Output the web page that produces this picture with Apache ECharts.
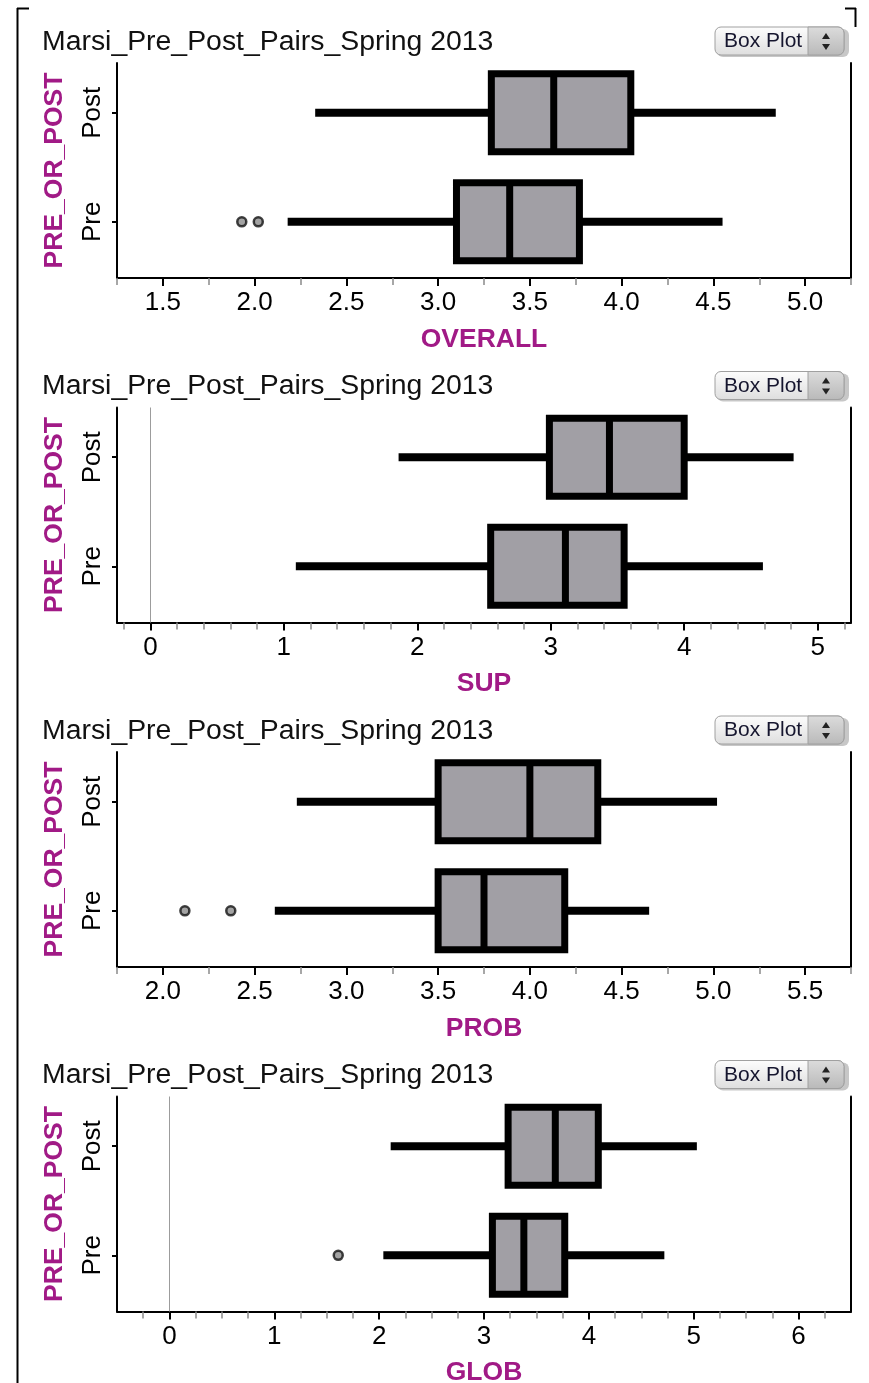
<!DOCTYPE html>
<html>
<head>
<meta charset="utf-8">
<title>Marsi_Pre_Post_Pairs_Spring 2013</title>
<script src="https://cdn.jsdelivr.net/npm/echarts@6/dist/echarts.min.js"></script>
<style>
  html, body { margin: 0; padding: 0; background: #fff; }
  #chart { width: 869px; height: 1383px; }
</style>
</head>
<body>
<div id="chart"></div>
<script>
// ---- data -------------------------------------------------------------
const categories = ['Pre', 'Post'];
const panelTitle = 'Marsi_Pre_Post_Pairs_Spring 2013';
const measureNames = ['OVERALL', 'SUP', 'PROB', 'GLOB'];

// five-number summaries: [low whisker, Q1, median, Q3, high whisker]
const overallPre  = [2.18, 3.10, 3.39, 3.77, 4.55];
const overallPost = [2.33, 3.29, 3.63, 4.05, 4.84];
const overallPreOutliers = [1.93, 2.02];
const overallPostOutliers = [];

const supPre  = [1.09, 2.55, 3.11, 3.55, 4.59];
const supPost = [1.86, 2.99, 3.44, 4.00, 4.82];
const supPreOutliers = [];
const supPostOutliers = [];

const probPre  = [2.61, 3.50, 3.75, 4.19, 4.65];
const probPost = [2.73, 3.50, 4.00, 4.37, 5.02];
const probPreOutliers = [2.12, 2.37];
const probPostOutliers = [];

const globPre  = [2.04, 3.08, 3.38, 3.77, 4.72];
const globPost = [2.11, 3.23, 3.68, 4.09, 5.03];
const globPreOutliers = [1.61];
const globPostOutliers = [];

// axis extents and tick labels
const overallRange = [1.25, 5.25];
const overallTicks = [1.5, 2.0, 2.5, 3.0, 3.5, 4.0, 4.5, 5.0];
const overallMinorTicks = [1.25, 1.75, 2.25, 2.75, 3.25, 3.75, 4.25, 4.75, 5.25];

const supRange = [-0.25, 5.25];
const supTicks = [0, 1, 2, 3, 4, 5];
const supMinorTicks = [-0.2, 0.2, 0.4, 0.6, 0.8, 1.2, 1.4, 1.6, 1.8, 2.2, 2.4, 2.6, 2.8,
                       3.2, 3.4, 3.6, 3.8, 4.2, 4.4, 4.6, 4.8, 5.2];

const probRange = [1.75, 5.75];
const probTicks = [2.0, 2.5, 3.0, 3.5, 4.0, 4.5, 5.0, 5.5];
const probMinorTicks = [1.75, 2.25, 2.75, 3.25, 3.75, 4.25, 4.75, 5.25, 5.75];

const globRange = [-0.5, 6.5];
const globTicks = [0, 1, 2, 3, 4, 5, 6];
const globMinorTicks = [-0.25, 0.25, 0.5, 0.75, 1.25, 1.5, 1.75, 2.25, 2.5, 2.75, 3.25, 3.5, 3.75,
                        4.25, 4.5, 4.75, 5.25, 5.5, 5.75, 6.25];

// ---- layout & style ---------------------------------------------------
const FONT = "'Liberation Sans', Arial, Helvetica, sans-serif";
const MAGENTA = '#a11a86';
const PANEL_STEP = 344.5;
const PLOT_LEFT = 117, PLOT_WIDTH = 734, PLOT_TOP = 63, PLOT_HEIGHT = 215;
const CAT_MIN = -0.515, CAT_MAX = 1.456;   // Pre sits at 0, Post at 1

const panels = [
  { name: measureNames[0], range: overallRange, ticks: overallTicks, minor: overallMinorTicks, decimals: 1,
    pre: overallPre, post: overallPost, preOut: overallPreOutliers, postOut: overallPostOutliers },
  { name: measureNames[1], range: supRange, ticks: supTicks, minor: supMinorTicks, decimals: 0,
    pre: supPre, post: supPost, preOut: supPreOutliers, postOut: supPostOutliers },
  { name: measureNames[2], range: probRange, ticks: probTicks, minor: probMinorTicks, decimals: 1,
    pre: probPre, post: probPost, preOut: probPreOutliers, postOut: probPostOutliers },
  { name: measureNames[3], range: globRange, ticks: globTicks, minor: globMinorTicks, decimals: 0,
    pre: globPre, post: globPost, preOut: globPreOutliers, postOut: globPostOutliers }
];

// horizontal box: thick whisker, grey box with heavy outline, median bar
function renderBox(params, api) {
  const cat = api.value(0);
  const lo = api.coord([api.value(1), cat]);
  const q1 = api.coord([api.value(2), cat]);
  const med = api.coord([api.value(3), cat]);
  const q3 = api.coord([api.value(4), cat]);
  const hi = api.coord([api.value(5), cat]);
  const h = api.size([0, 1])[1] * 0.715;
  const top = med[1] - h / 2;
  return {
    type: 'group',
    children: [
      { type: 'line', shape: { x1: lo[0], y1: med[1], x2: hi[0], y2: med[1] },
        style: { stroke: '#000', lineWidth: 8 } },
      { type: 'rect', shape: { x: q1[0], y: top, width: q3[0] - q1[0], height: h },
        style: { fill: '#a19fa5', stroke: '#000', lineWidth: 7 } },
      { type: 'line', shape: { x1: med[0], y1: top, x2: med[0], y2: top + h },
        style: { stroke: '#000', lineWidth: 7 } }
    ]
  };
}

function selectorButton(dy) {
  const x0 = 715, y0 = 27 + dy;
  return {
    type: 'group', x: x0, y: y0, silent: true,
    children: [
      { type: 'rect', shape: { x: 2, y: 2, width: 132, height: 28, r: 6 },
        style: { fill: 'rgba(0,0,0,0.22)' } },
      { type: 'rect', shape: { x: 0, y: 0, width: 129, height: 28, r: 6 },
        style: { fill: new echarts.graphic.LinearGradient(0, 0, 0, 1, [
          { offset: 0, color: '#fdfdfd' }, { offset: 1, color: '#dedede' }]),
          stroke: '#a0a0a0', lineWidth: 1 } },
      { type: 'rect', shape: { x: 93, y: 0, width: 36, height: 28, r: [0, 6, 6, 0] },
        style: { fill: new echarts.graphic.LinearGradient(0, 0, 0, 1, [
          { offset: 0, color: '#dcdcdc' }, { offset: 1, color: '#b9b9b9' }]),
          stroke: '#a0a0a0', lineWidth: 1 } },
      { type: 'text', x: 9, y: 14.5,
        style: { text: 'Box Plot', font: '21px ' + FONT, fill: '#15152e', verticalAlign: 'middle' } },
      { type: 'polygon', shape: { points: [[107, 12], [115, 12], [111, 6]] }, style: { fill: '#222' } },
      { type: 'polygon', shape: { points: [[107, 17], [115, 17], [111, 23]] }, style: { fill: '#222' } }
    ]
  };
}

const option = {
  animation: false,
  backgroundColor: '#fff',
  textStyle: { fontFamily: FONT },
  title: [], grid: [], xAxis: [], yAxis: [], series: [],
  graphic: [
    // outer frame brackets
    { type: 'line', silent: true, shape: { x1: 17.5, y1: 8, x2: 17.5, y2: 1383 }, style: { stroke: '#000', lineWidth: 2 } },
    { type: 'line', silent: true, shape: { x1: 17, y1: 8.5, x2: 29, y2: 8.5 }, style: { stroke: '#000', lineWidth: 2 } },
    { type: 'line', silent: true, shape: { x1: 855.5, y1: 8, x2: 855.5, y2: 27 }, style: { stroke: '#000', lineWidth: 2 } },
    { type: 'line', silent: true, shape: { x1: 845, y1: 8.5, x2: 856, y2: 8.5 }, style: { stroke: '#000', lineWidth: 2 } }
  ]
};

panels.forEach((p, k) => {
  const dy = PANEL_STEP * k;
  const xi = option.xAxis.length;
  const yi = option.yAxis.length;

  option.title.push({
    text: panelTitle, left: 42, top: 28 + dy, padding: 0,
    textStyle: { fontFamily: FONT, fontSize: 28.4, fontWeight: 'normal', color: '#111' }
  });

  option.grid.push({
    left: PLOT_LEFT, top: PLOT_TOP + dy, width: PLOT_WIDTH, height: PLOT_HEIGHT,
    containLabel: false, outerBoundsMode: 'none'
  });

  // main x axis: labels and major ticks
  option.xAxis.push({
    type: 'value', gridIndex: k, position: 'bottom', min: p.range[0], max: p.range[1],
    axisLine: { onZero: false, lineStyle: { color: '#000', width: 2 } },
    axisTick: { customValues: p.ticks, length: 8, lineStyle: { color: '#000', width: 2 } },
    axisLabel: { customValues: p.ticks, margin: 12, fontSize: 26, color: '#000', fontFamily: FONT,
                 formatter: v => Number(v).toFixed(p.decimals) },
    splitLine: { show: false },
    name: p.name, nameLocation: 'middle', nameGap: 48,
    nameTextStyle: { color: MAGENTA, fontSize: 26.5, fontWeight: 'bold', fontFamily: FONT }
  });
  // companion x axis carrying the lighter minor ticks
  option.xAxis.push({
    type: 'value', gridIndex: k, position: 'bottom', min: p.range[0], max: p.range[1],
    axisLine: { show: false, onZero: false },
    axisTick: { customValues: p.minor, length: 7, lineStyle: { color: '#8a8a8a', width: 1.5 } },
    axisLabel: { show: false },
    splitLine: { show: false }
  });

  // category axis (Pre = 0, Post = 1)
  option.yAxis.push({
    type: 'value', gridIndex: k, position: 'left', min: CAT_MIN, max: CAT_MAX,
    axisLine: { onZero: false, lineStyle: { color: '#000', width: 2 } },
    axisTick: { customValues: [0, 1], length: 5, lineStyle: { color: '#000', width: 2 } },
    axisLabel: { customValues: [0, 1], rotate: 90, margin: 11, fontSize: 26, color: '#000',
                 fontFamily: FONT, formatter: v => categories[Math.round(v)] },
    splitLine: { show: false },
    name: 'PRE_OR_POST', nameLocation: 'middle', nameGap: 49,
    nameTextStyle: { color: MAGENTA, fontSize: 26.5, fontWeight: 'bold', fontFamily: FONT }
  });
  // right-hand frame line
  option.yAxis.push({
    type: 'value', gridIndex: k, position: 'right', min: CAT_MIN, max: CAT_MAX,
    axisLine: { onZero: false, lineStyle: { color: '#000', width: 2 } },
    axisTick: { show: false }, axisLabel: { show: false }, splitLine: { show: false }
  });

  option.series.push({
    type: 'custom', name: p.name, xAxisIndex: xi, yAxisIndex: yi,
    encode: { x: [1, 2, 3, 4, 5], y: 0 },
    data: [[0].concat(p.pre), [1].concat(p.post)],
    renderItem: renderBox, silent: true, z: 3
  });

  const outliers = p.preOut.map(v => [v, 0]).concat(p.postOut.map(v => [v, 1]));
  const scatter = {
    type: 'scatter', xAxisIndex: xi, yAxisIndex: yi, data: outliers,
    symbol: 'circle', symbolSize: 9, silent: true, z: 4,
    itemStyle: { color: '#8c8c8c', borderColor: '#111', borderWidth: 2.5 }
  };
  if (p.range[0] < 0 && p.range[1] > 0) {
    scatter.markLine = {
      silent: true, symbol: ['none', 'none'], label: { show: false },
      lineStyle: { color: '#9c9c9c', width: 1, type: 'solid' },
      data: [{ xAxis: 0 }]
    };
  }
  option.series.push(scatter);

  option.graphic.push(selectorButton(dy));
});

const chart = echarts.init(document.getElementById('chart'), null, { renderer: 'canvas' });
chart.setOption(option);
</script>
</body>
</html>
